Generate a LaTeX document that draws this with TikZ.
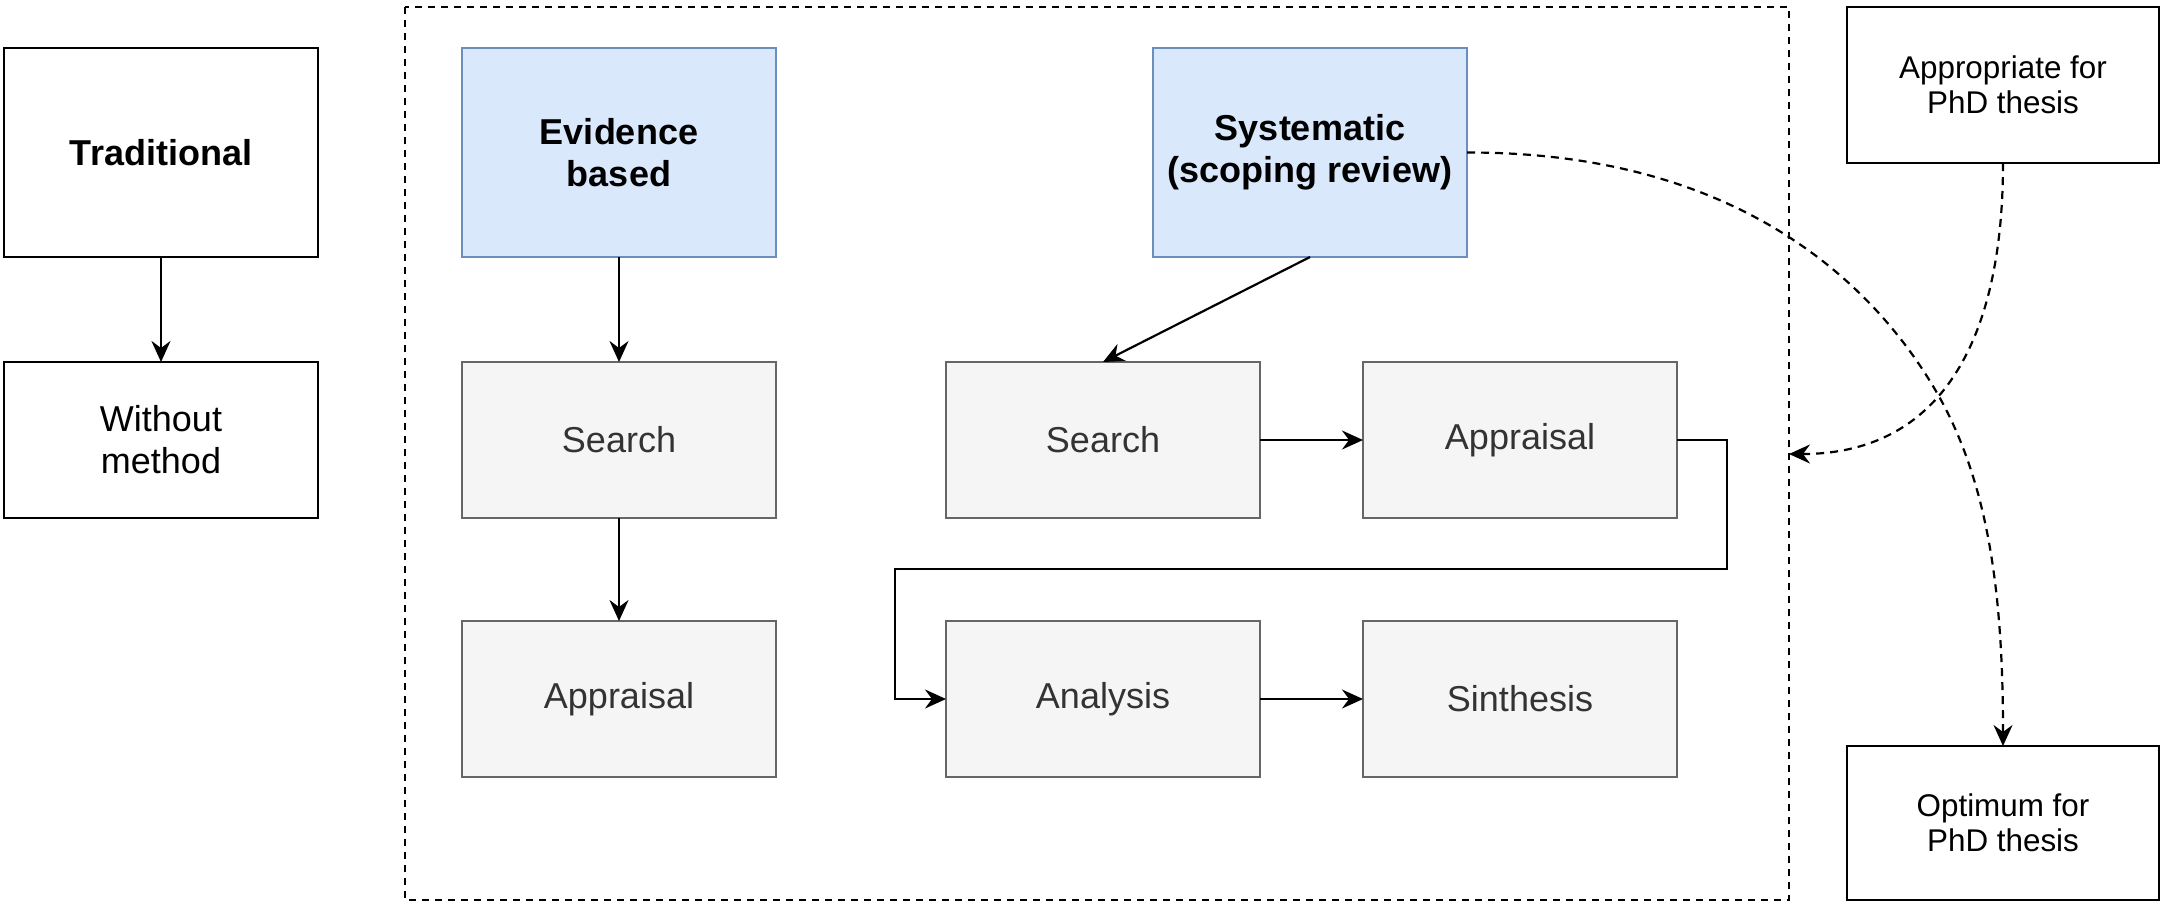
\documentclass[tikz,border=0pt]{standalone}
\usepackage{fontspec}
\setmainfont{Liberation Sans}
\usetikzlibrary{arrows.meta}

\definecolor{bluefill}{HTML}{DAE8FC}
\definecolor{blueline}{HTML}{6C8EBF}
\definecolor{grayfill}{HTML}{F5F5F5}
\definecolor{grayline}{HTML}{666666}
\definecolor{graytext}{HTML}{333333}

\tikzset{
  box/.style={draw=black, line width=1.1pt, fill=white, inner sep=0pt, outer sep=0pt,
    minimum width=157pt, minimum height=78pt, align=center,
    font=\fontsize{18}{21}\selectfont},
  tallbox/.style={minimum height=104.5pt},
  bluebox/.style={box, tallbox, draw=blueline, fill=bluefill,
    font=\fontsize{18}{21}\selectfont\bfseries},
  graybox/.style={box, draw=grayline, fill=grayfill, text=graytext},
  notebox/.style={box, minimum width=156pt, font=\fontsize{15.7}{17.5}\selectfont},
  link/.style={line width=1.1pt, -{Stealth[length=10.5pt, width=9.5pt, inset=3.5pt]}},
  dashlink/.style={link, dash pattern=on 4pt off 3pt},
  frame/.style={draw=black, line width=1pt, dash pattern=on 3.5pt off 3pt}
}

\begin{document}
\begin{tikzpicture}[x=0.5pt, y=-0.5pt]
  \useasboundingbox (0,0) rectangle (2165,907);

  % dashed frame around the two methodical approaches
  \draw[frame] (405,7) rectangle (1789,900);

  % traditional review
  \node[box, tallbox, font=\fontsize{18}{21}\selectfont\bfseries] (trad) at (161,152.5) {Traditional};
  \node[box] (without) at (161,440) {Without\\method};

  % evidence based review
  \node[bluebox] (evid) at (619,152.5) {Evidence\\based};
  \node[graybox] (esearch) at (619,440) {Search};
  \node[graybox] (eappr) at (619,699) {Appraisal};

  % systematic review
  \node[bluebox] (syst) at (1310,152.5) {Systematic\\(scoping review)};
  \node[graybox] (ssearch) at (1103,440) {Search};
  \node[graybox] (sappr) at (1520,440) {Appraisal};
  \node[graybox] (analysis) at (1103,699) {Analysis};
  \node[graybox] (synth) at (1520,699) {Sinthesis};

  % assessment notes
  \node[notebox] (approp) at (2003,85) {Appropriate for\\PhD thesis};
  \node[notebox, minimum height=77pt] (optim) at (2003,823) {Optimum for\\PhD thesis};
  \coordinate (frameR) at (1789,454);
  \coordinate (arcmid) at (1941,400);

  % connectors
  \draw[link] (trad) -- (without);
  \draw[link] (evid) -- (esearch);
  \draw[link] (esearch) -- (eappr);
  \draw[link] (syst.south) -- (ssearch.north);
  \draw[link] (ssearch) -- (sappr);
  \coordinate (bendR) at (1727,569);
  \coordinate (bendL) at (895,569);
  \draw[link] (sappr.east) -| (bendR) -- (bendL) |- (analysis.west);
  \draw[link] (analysis) -- (synth);

  \draw[dashlink] (syst.east) .. controls (1750,152) and (1883,295) .. (arcmid)
    .. controls (1990,490) and (2003,600) .. (optim.north);
  \draw[dashlink] (approp.south) .. controls (2003,343) and (1939,454) .. (frameR);
\end{tikzpicture}
\end{document}
